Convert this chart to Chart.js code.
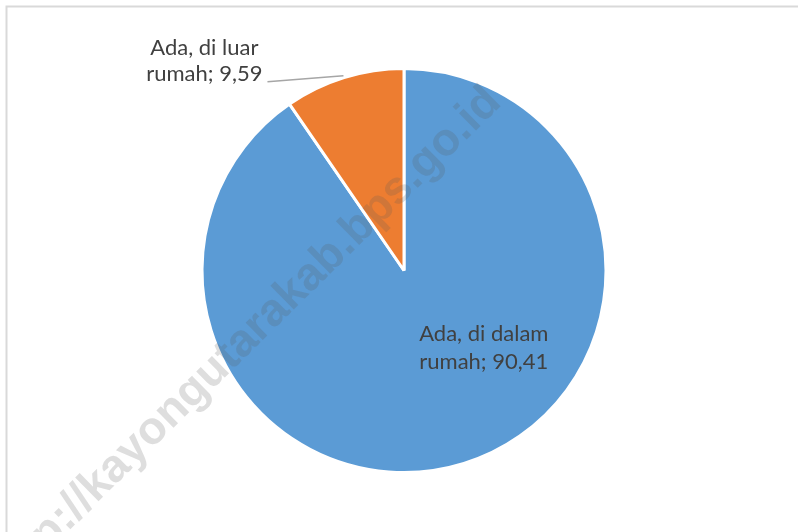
<!DOCTYPE html>
<html>
<head>
<meta charset="utf-8">
<script src="https://cdn.jsdelivr.net/npm/chart.js@4.4.1/dist/chart.umd.min.js"></script>
<style>
  html, body { margin: 0; padding: 0; background: #ffffff; }
  #wrap { width: 798px; height: 532px; position: relative; }
</style>
</head>
<body>
<div id="wrap"><canvas id="c" width="798" height="532"></canvas></div>
<script>
// ---- data ----
const categories = ["Ada, di dalam rumah", "Ada, di luar rumah"];
const values = [90.41, 9.59];
const colors = ["#5B9BD5", "#ED7D31"];
const watermarkText = "http://kayongutarakab.bps.go.id";

function fmt(v) { return v.toFixed(2).replace(".", ","); }
function labelLines(i) {
  const words = categories[i].split(" ");
  const last = words.pop();
  return [words.join(" "), last + "; " + fmt(values[i])];
}

const LABEL_FONT = '22px Lato, "Liberation Sans", sans-serif';
const LABEL_COLOR = "#404040";
const LINE_H = 28;

const frame = {
  id: "frame",
  beforeDraw(chart) {
    const ctx = chart.ctx;
    ctx.save();
    ctx.fillStyle = "#ffffff";
    ctx.fillRect(0, 0, chart.width, chart.height);
    ctx.strokeStyle = "#d9d9d9";
    ctx.lineWidth = 2;
    ctx.beginPath();
    ctx.moveTo(6.5, chart.height);
    ctx.lineTo(6.5, 6.5);
    ctx.lineTo(chart.width, 6.5);
    ctx.stroke();
    ctx.restore();
  }
};

const pieLabels = {
  id: "pieLabels",
  afterDatasetsDraw(chart) {
    const ctx = chart.ctx;
    const meta = chart.getDatasetMeta(0);
    ctx.save();
    ctx.font = LABEL_FONT;
    ctx.fillStyle = LABEL_COLOR;
    ctx.textBaseline = "alphabetic";
    ctx.textAlign = "center";
    // inside label for the big slice
    {
      const arc = meta.data[0];
      const r = arc.outerRadius;
      const cx = arc.x + 0.395 * r;
      const cy = arc.y + 0.383 * r;
      const lines = labelLines(0);
      ctx.fillText(lines[0], cx, cy - 7);
      ctx.fillText(lines[1], cx, cy - 7 + LINE_H);
    }
    // outside label with leader line for the small slice
    {
      const arc = meta.data[1];
      const mid = (arc.startAngle + arc.endAngle) / 2;
      const r = arc.outerRadius + 2;
      const ex = arc.x + Math.cos(mid) * r;
      const ey = arc.y + Math.sin(mid) * r;
      const sx = ex - 76, sy = ey + 6;
      ctx.strokeStyle = "#a6a6a6";
      ctx.lineWidth = 1.5;
      ctx.beginPath();
      ctx.moveTo(ex, ey);
      ctx.lineTo(sx, sy);
      ctx.stroke();
      const lines = labelLines(1);
      const w2 = ctx.measureText(lines[1]).width;
      const tcx = sx - 5 - w2 / 2;
      const base2 = sy - 1;
      ctx.fillText(lines[0], tcx, base2 - 26);
      ctx.fillText(lines[1], tcx, base2);
    }
    ctx.restore();
  }
};

const watermark = {
  id: "watermark",
  afterDraw(chart) {
    const ctx = chart.ctx;
    ctx.save();
    ctx.translate(494, 95);
    ctx.rotate(-44.5 * Math.PI / 180);
    ctx.font = 'bold 46px "Liberation Sans", Arial, sans-serif';
    ctx.textAlign = "right";
    ctx.textBaseline = "middle";
    ctx.fillStyle = "rgba(90,90,90,0.2)";
    ctx.fillText(watermarkText, 0, 0);
    ctx.restore();
  }
};

new Chart(document.getElementById("c"), {
  type: "pie",
  data: {
    labels: categories,
    datasets: [{
      data: values,
      backgroundColor: colors,
      borderColor: "#ffffff",
      borderWidth: 3,
      hoverOffset: 0
    }]
  },
  options: {
    responsive: false,
    animation: false,
    events: [],
    layout: { padding: { top: 67, bottom: 58, left: 10, right: 0 } },
    plugins: {
      legend: { display: false },
      tooltip: { enabled: false },
      title: { display: false }
    }
  },
  plugins: [frame, pieLabels, watermark]
});
</script>
</body>
</html>
